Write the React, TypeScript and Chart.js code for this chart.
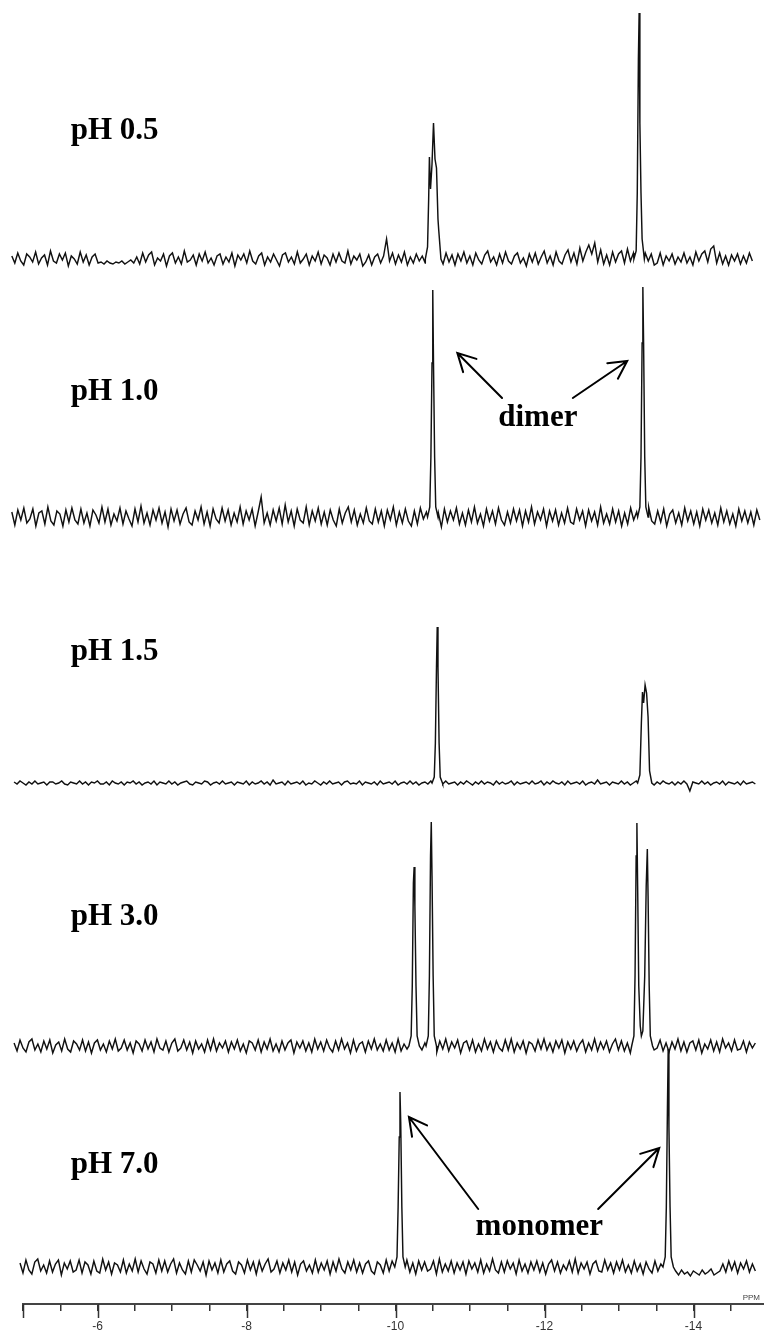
import React, { useEffect, useRef } from "react";
import { Chart, registerables } from "chart.js";

Chart.register(...registerables);

// ---- spectrum labels ----
const phLabels = ["pH 0.5", "pH 1.0", "pH 1.5", "pH 3.0", "pH 7.0"];

// ---- axis (ppm) ----
const axisLeftPpm = -5;
const axisRightPpm = -14.946;
const majorTickValues = [-5, -6, -8, -10, -12, -14];
const tickLabelValues = [-6, -8, -10, -12, -14];

// ---- sampled trace ranges (ppm) ----
const traceStart = [-4.85, -4.85, -4.88, -4.88, -4.96];
const traceEnd = [-14.79, -14.89, -14.83, -14.83, -14.83];

// ---- baseline noise (intensity units), one value per sampled point ----
const noisePH05 = [
  3, -4, 6, -2, -6, 5, 2, -3, 7, -5, 1, 4, -6, 8, -2, -4, 5, -1, 6, -7, 3, 0, -5, 7, -3,
  4, -6, 2, 5, -4, -3, -5, -2, -4, -5, -3, -4, -2, -5, -3, -1, -4, 2, -5, 6, -3, 4, 7, -6, 1,
  -2, 5, -7, 3, 6, -4, 2, -5, 8, -3, -1, 4, -6, 5, -2, 7, -4, 1, -6, 3, 5, -5, 2, -3, 6,
  -7, 4, -1, 5, -4, 8, -2, -5, 3, 6, -6, 2, -3, 5, -1, -7, 4, 6, -3, 2, -5, 7, -4, 0, 5,
  -6, 3, -2, 7, -5, 4, 1, -6, 5, -3, 6, -2, -4, 8, -5, 3, -1, 5, -7, -3, 4, -6, 2, 5, -4,
  3, 20, -2, 6, -5, 4, -3, 7, -6, 2, -4, 5, -2, 3, -4, 5, -3, 6, -2, 4, -5, 6, -3, 4, -6,
  5, -2, 7, -4, 3, -6, 6, -1, -5, 4, 8, -3, 2, -6, 5, -4, 7, -2, -5, 3, 6, -4, 1, -7, 5,
  -3, 6, -5, 2, 8, -4, 3, -6, 7, -2, -5, 4, 9, -3, 6, -5, 11, -2, 7, 14, 5, 16, -3, 9, -5,
  4, -6, 7, -3, 5, 8, -4, 10, -2, 6, -5, 3, -4, 6, -2, 5, -6, -4, 6, -6, 3, -2, 5, -5, 2,
  -3, 6, -4, 2, -6, 7, -2, 5, 8, -3, 10, 13, -4, 6, -5, 3, -6, 4, -2, 5, -5, 3, -4, 6, -2,
];
const noisePH10 = [
  5, -8, 7, -3, 9, -6, -2, 8, -9, 4, 6, -7, 10, -4, -8, 6, 3, -9, 7, -5, 9, -3, -7, 8, -6,
  4, -9, 7, 2, -6, 10, -5, 8, -8, 3, -4, 9, -7, 6, -2, -9, 8, -5, 11, -6, 4, -8, 7, -3, 9,
  -6, 5, -10, 8, -4, 7, -7, 3, 9, -5, -8, 6, -3, 10, -7, 5, -9, 8, -2, -6, 9, -4, 7, -8, 4,
  -5, 10, -7, 6, -3, 8, -9, 5, 20, -6, 4, -8, 7, -4, 9, -7, 12, -5, 6, -9, 8, -3, -6, 10, -8,
  6, -4, 9, -7, 5, -8, 7, -3, -9, 8, -6, 4, 10, -5, 7, -8, 3, -6, 9, -4, -7, 8, -5, 6, -9,
  7, -3, 10, -8, 5, -6, 8, -4, -9, 6, -7, 9, -2, 5, -8, 7, -6, 4, -10, 8, -5, 6, -3, 9, -7,
  4, -8, 7, -5, 10, -6, 3, -9, 8, -4, 6, -7, 9, -3, -8, 5, -6, 8, -4, 7, -9, 6, -5, 10, -7,
  5, -3, 8, -9, 6, -4, 7, -8, 4, -6, 9, -5, -7, 8, -3, 6, -9, 7, -4, 5, -8, 10, -6, 3, -7,
  8, -5, 6, -9, 4, -7, 9, -3, 5, -8, 7, -6, 10, -4, -7, 6, -5, 8, -9, 3, 7, -6, 4, -8, 9,
  -4, 6, -7, 5, -9, 8, -3, 7, -6, 4, -8, 9, -5, 6, -7, 3, -9, 8, -4, 6, -6, 5, -8, 7, -3,
];
const noisePH15 = [
  1, -1, 2, 0, -2, 1, -1, 2, -1, 0, 1, -2, 1, 1, -1, 0, 2, -1, -2, 1, 0, -1, 2, -1, 1,
  -2, 1, 0, 2, -1, -1, 1, -2, 2, 0, -1, 1, -2, 1, 0, 2, -1, 1, -2, 0, 1, -1, 2, -2, 1,
  0, -1, 2, -1, 1, -2, 0, 1, 2, -1, -2, 1, 0, -1, 2, 1, -2, 0, 1, -1, 2, -1, 0, 1, -2,
  1, 0, -1, 2, -2, 1, -1, 0, 2, -1, 1, -2, 3, -1, 0, 1, -2, 2, -1, 0, 1, -1, 2, -2, 0,
  -1, 2, 0, -2, 1, -1, 2, -1, 0, 1, -2, 1, 2, -1, 0, -1, 2, -2, 1, 0, -1, 1, -2, 2, -1,
  0, 1, -1, 2, -2, 0, 1, -1, 2, -1, 1, -2, 0, 1, -1, 2, 0, -2, 1, -1, 2, -1, 0, 1, -2,
  1, -1, 2, 0, -2, 1, -1, 2, -1, 1, 0, -2, 2, -1, 1, -1, 0, 2, -2, 1, -1, 0, 1, -1, 2,
  -1, 0, 2, -2, 1, -1, 2, 0, -1, 1, -2, 2, -1, 0, 1, -1, 2, -2, 0, 1, -1, 3, -1, 0, 1,
  -2, 1, 0, -1, 2, -1, 1, -2, 0, 2, -1, 1, -1, 0, 2, -2, 1, -1, 2, 0, -1, 1, -2, 1, -1,
  2, -1, -8, 1, 0, -1, 2, -1, 1, -2, 0, 1, -1, 2, -2, 1, 0, -1, 1, -2, 2, -1, 0, 1, -1,
];
const noisePH30 = [
  3, -5, 6, -2, -6, 4, 7, -4, 2, -6, 5, -3, 6, -7, 1, 4, -5, 7, -3, -6, 5, 2, -4, 6, -5,
  4, -7, 3, 6, -4, 2, -6, 5, -3, 7, -5, -2, 6, -4, 3, -7, 5, 2, -5, 6, -3, 4, -6, 7, -2,
  -4, 5, -6, 3, 7, -5, -2, 6, -4, 4, -7, 5, -3, 2, -6, 6, -4, 7, -5, 3, -2, 5, -6, 4, -3,
  6, -5, 2, -7, 5, 3, -4, 6, -6, 4, -3, 7, -5, 2, -6, 5, -4, 3, 6, -7, 4, -2, 5, -5, 3,
  -6, 7, -3, 4, -5, 6, -2, -6, 5, -4, 7, -3, 3, -7, 6, -5, 2, 4, -6, 5, -3, 7, -4, 2, -5,
  6, -4, 3, -6, 7, -5, 2, -3, 5, -7, 4, 6, -4, 3, -5, 6, -2, -6, 5, -3, 7, -5, 4, -2, 6,
  -7, 3, 5, -4, 6, -6, 2, -5, 7, -3, 4, -6, 5, -2, -5, 6, -4, 7, -6, 3, -3, 5, -7, 4, 2,
  -5, 6, -3, 7, -4, 3, -6, 5, -2, 6, -7, 4, -3, 5, -5, 2, 6, -6, 3, -4, 7, -5, 4, -3, 5,
  -6, 2, 7, -4, 5, -5, 3, -7, 6, -2, 4, -6, 5, -3, 7, -4, -2, 6, -5, 3, -6, 4, -3, 7, -5,
  4, -6, 3, 5, -4, 6, -7, 2, -3, 6, -5, 4, -6, 7, -2, 3, -5, 6, -4, -3, 5, -6, 4, -2, 3,
];
const noisePH70 = [
  4, -6, 7, -3, -7, 5, 8, -4, 2, -6, 6, -5, 3, 7, -8, 4, -2, 6, -5, -3, 7, -6, 5, 2, -7,
  6, -4, -6, 8, -3, 5, -7, 4, 2, -5, 7, -6, 3, -4, 8, -5, 6, -2, -7, 5, 3, -6, 7, -4, 6,
  -5, 3, 8, -6, 4, -3, -7, 6, -5, 7, 2, -4, 5, -8, 6, -3, 4, -6, 7, -5, 3, 6, -4, -7, 5,
  2, -6, 7, -3, 5, -7, 6, -4, 3, 8, -5, -2, 6, -6, 4, -3, 7, -5, 5, -8, 3, 6, -4, 2, -6,
  7, -5, 4, -3, 6, -7, 5, -4, 8, -2, -6, 5, -3, 7, -5, 4, -6, 3, 6, -4, -7, 5, 2, -6, 7,
  -4, 6, -3, 5, -6, 2, 7, -5, 4, -7, 6, -3, 5, -4, -2, 6, -7, 8, -5, 3, -4, 6, -6, 4, -3,
  5, -7, 6, -2, 4, -5, 7, -6, 3, -4, 8, -3, -6, 5, -5, 6, -2, 4, -7, 7, -4, 3, -6, 5, -3,
  6, -5, 4, -7, 3, 7, -4, 5, -6, 2, -3, 6, -5, 8, -6, 4, -2, 5, -7, 3, 6, -4, -5, 7, -3,
  4, -6, 5, -3, 7, -5, 2, -6, 6, -4, 3, -7, 5, -2, -6, 6, -4, 3, -5, 7, -6, 4, -4, -8, -3,
  -7, -5, -9, -4, -6, -8, -3, -7, -5, -2, -8, -6, -4, 3, -5, 6, -3, 5, -6, 4, -2, 6, -5, 3, -4,
];

// ---- resonances: [ppm, intensity] points ----
const peaksPH05 = [
  [[-10.40, 0], [-10.43, 12], [-10.445, 60], [-10.455, 102], [-10.47, 70], [-10.49, 95], [-10.51, 136], [-10.53, 100], [-10.55, 91], [-10.57, 40], [-10.58, 29], [-10.61, 0]],
  [[-13.20, 0], [-13.23, 8], [-13.245, 66], [-13.26, 200], [-13.27, 246], [-13.28, 136], [-13.295, 66], [-13.31, 20], [-13.34, 0]],
];
const peaksPH10 = [
  [[-10.43, 0], [-10.46, 10], [-10.475, 60], [-10.49, 154], [-10.50, 227], [-10.51, 154], [-10.525, 60], [-10.54, 10], [-10.57, 0]],
  [[-13.25, 0], [-13.28, 10], [-13.295, 60], [-13.31, 174], [-13.32, 230], [-13.33, 174], [-13.345, 60], [-13.36, 10], [-13.39, 0]],
];
const peaksPH15 = [
  [[-10.49, 0], [-10.52, 6], [-10.535, 40], [-10.55, 116], [-10.56, 156], [-10.57, 116], [-10.585, 40], [-10.60, 6], [-10.63, 0]],
  [[-13.25, 0], [-13.28, 8], [-13.30, 60], [-13.315, 91], [-13.33, 80], [-13.35, 98], [-13.37, 90], [-13.39, 66], [-13.41, 12], [-13.44, 0]],
];
const peaksPH30 = [
  [[-10.18, 0], [-10.21, 10], [-10.225, 60], [-10.24, 163], [-10.25, 179], [-10.26, 140], [-10.275, 60], [-10.29, 10], [-10.32, 0]],
  [[-10.41, 0], [-10.44, 10], [-10.455, 70], [-10.47, 190], [-10.48, 224], [-10.49, 170], [-10.505, 70], [-10.52, 10], [-10.55, 0]],
  [[-13.17, 0], [-13.20, 10], [-13.215, 70], [-13.23, 190], [-13.24, 223], [-13.25, 160], [-13.265, 60], [-13.285, 20], [-13.30, 10], [-13.32, 15], [-13.345, 70], [-13.365, 160], [-13.38, 197], [-13.39, 150], [-13.405, 60], [-13.42, 10], [-13.45, 0]],
];
const peaksPH70 = [
  [[-9.99, 0], [-10.02, 10], [-10.035, 60], [-10.05, 130], [-10.06, 175], [-10.07, 145], [-10.085, 60], [-10.10, 10], [-10.13, 0]],
  [[-13.59, 0], [-13.62, 10], [-13.635, 60], [-13.65, 160], [-13.66, 218], [-13.67, 140], [-13.685, 60], [-13.70, 10], [-13.73, 0]],
];

const noiseSets = [noisePH05, noisePH10, noisePH15, noisePH30, noisePH70];
const peakSets = [peaksPH05, peaksPH10, peaksPH15, peaksPH30, peaksPH70];

// ---- stacking layout (y units of the shared hidden axis) ----
const yAxisMax = 1304;
const stackOffsets = [1045, 787, 521, 258, 37];
const labelY = [1165, 904, 644, 379, 131];
const labelPpm = -5.64;

// ---- annotations (ppm, y) ----
const annotTexts = [
  { text: "dimer", ppm: -11.91, y: 878 },
  { text: "monomer", ppm: -11.93, y: 69 },
];
const arrows = [
  { from: [-11.43, 906], to: [-10.83, 951] },
  { from: [-12.38, 906], to: [-13.11, 943] },
  { from: [-11.11, 95], to: [-10.18, 187] },
  { from: [-12.72, 95], to: [-13.54, 156] },
];

function buildTrace(noise: number[], start: number, end: number, clusters: number[][][], offset: number) {
  const n = noise.length;
  const step = (end - start) / (n - 1);
  const ranges = clusters.map((c) => {
    const xs = c.map((p) => p[0]);
    return [Math.min(...xs), Math.max(...xs)];
  });
  const pts: { x: number; y: number }[] = [];
  noise.forEach((v, i) => {
    const x = start + i * step;
    if (!ranges.some(([a, b]) => x >= a && x <= b)) pts.push({ x, y: offset + v });
  });
  clusters.forEach((c) => c.forEach(([x, v]) => pts.push({ x, y: offset + v })));
  pts.sort((a, b) => b.x - a.x);
  return pts;
}

const serif = '"Liberation Serif", "Times New Roman", serif';

const overlayPlugin = {
  id: "nmrOverlay",
  afterDraw(chart: any) {
    const { ctx } = chart;
    const xs = chart.scales.x;
    const ys = chart.scales.y;
    ctx.save();
    // major tick extensions
    ctx.strokeStyle = "#333";
    ctx.lineWidth = 1.5;
    majorTickValues.forEach((v) => {
      const px = Math.round(xs.getPixelForValue(v)) + 0.5;
      ctx.beginPath();
      ctx.moveTo(px, xs.top);
      ctx.lineTo(px, xs.top + 14);
      ctx.stroke();
    });
    // PPM unit label
    ctx.fillStyle = "#444";
    ctx.font = '8px "Liberation Sans", Arial, sans-serif';
    ctx.textAlign = "right";
    ctx.textBaseline = "bottom";
    ctx.fillText("PPM", xs.right - 4, xs.top - 2);

    // pH labels
    ctx.fillStyle = "#000";
    ctx.font = `bold 31px ${serif}`;
    ctx.textAlign = "left";
    ctx.textBaseline = "alphabetic";
    phLabels.forEach((t, i) => {
      ctx.fillText(t, xs.getPixelForValue(labelPpm), ys.getPixelForValue(labelY[i]));
    });
    ctx.textAlign = "center";
    annotTexts.forEach((a) => {
      ctx.fillText(a.text, xs.getPixelForValue(a.ppm), ys.getPixelForValue(a.y));
    });
    // arrows
    ctx.strokeStyle = "#000";
    ctx.lineWidth = 2;
    ctx.lineCap = "round";
    arrows.forEach((a) => {
      const x1 = xs.getPixelForValue(a.from[0]);
      const y1 = ys.getPixelForValue(a.from[1]);
      const x2 = xs.getPixelForValue(a.to[0]);
      const y2 = ys.getPixelForValue(a.to[1]);
      const ang = Math.atan2(y1 - y2, x1 - x2);
      const hl = 20;
      const ha = (28 * Math.PI) / 180;
      ctx.beginPath();
      ctx.moveTo(x1, y1);
      ctx.lineTo(x2, y2);
      ctx.moveTo(x2 + hl * Math.cos(ang + ha), y2 + hl * Math.sin(ang + ha));
      ctx.lineTo(x2, y2);
      ctx.lineTo(x2 + hl * Math.cos(ang - ha), y2 + hl * Math.sin(ang - ha));
      ctx.stroke();
    });
    ctx.restore();
  },
};

export default function App() {
  const canvasRef = useRef<HTMLCanvasElement | null>(null);

  useEffect(() => {
    const canvas = canvasRef.current;
    if (!canvas) return;
    const datasets = noiseSets.map((noise, i) => ({
      label: phLabels[i],
      data: buildTrace(noise, traceStart[i], traceEnd[i], peakSets[i], stackOffsets[i]),
      borderColor: "#111",
      borderWidth: 1.45,
      pointRadius: 0,
      tension: 0,
      fill: false,
      clip: false as any,
    }));
    const chart = new Chart(canvas, {
      type: "line",
      data: { datasets },
      options: {
        animation: false,
        responsive: false,
        devicePixelRatio: 1,
        layout: { padding: { left: 23, right: 0, top: 0, bottom: 0 } },
        plugins: { legend: { display: false }, tooltip: { enabled: false } },
        scales: {
          x: {
            type: "linear",
            position: "bottom",
            min: axisRightPpm,
            max: axisLeftPpm,
            reverse: true,
            grid: { display: true, drawOnChartArea: false, drawTicks: true, tickLength: 7, color: "#333", lineWidth: 1.5 },
            border: { display: true, color: "#444", width: 2 },
            ticks: {
              stepSize: 0.5,
              includeBounds: false,
              autoSkip: false,
              maxRotation: 0,
              padding: 8,
              color: "#333",
              font: { family: '"Liberation Sans", Arial, sans-serif', size: 12 },
              callback: (v: any) => (tickLabelValues.includes(Number(v)) ? String(v) : ""),
            },
            afterFit: (scale: any) => {
              scale.height = 31;
            },
          },
          y: { type: "linear", display: false, min: 0, max: yAxisMax },
        },
      },
      plugins: [overlayPlugin],
    });
    return () => chart.destroy();
  }, []);

  return (
    <div style={{ position: "absolute", left: 0, top: 0, width: 764, height: 1335, background: "#fff" }}>
      <canvas ref={canvasRef} width={764} height={1335} style={{ display: "block" }} />
    </div>
  );
}
